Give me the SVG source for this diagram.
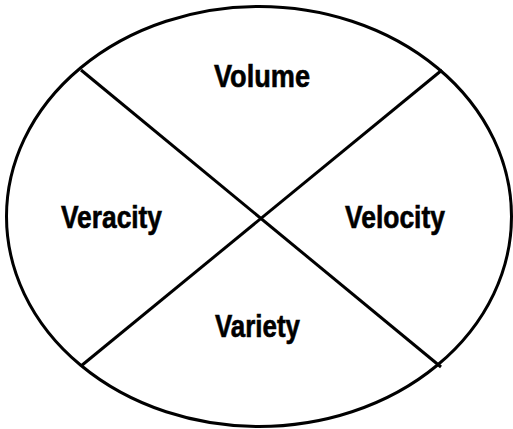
<svg xmlns="http://www.w3.org/2000/svg" width="513" height="429" viewBox="0 0 513 429">
<style>
.shape{fill:none;stroke:#000;stroke-width:3}
.lbl{font-family:"Liberation Sans Narrow","Liberation Sans",Arial,sans-serif;font-weight:bold;font-size:31px;fill:#000;stroke:#000;stroke-width:0.6}
</style>
<rect width="513" height="429" fill="#fff"/>
<g id="outline">
<ellipse class="shape" cx="259" cy="216.5" rx="252.5" ry="210"/>
</g>
<g id="connectors">
<line class="shape" x1="81" y1="70" x2="441" y2="367"/>
<line class="shape" x1="442" y1="70" x2="81" y2="366"/>
</g>
<g id="volume"><text class="lbl" x="214" y="87" textLength="96" lengthAdjust="spacingAndGlyphs">Volume</text></g>
<g id="veracity"><text class="lbl" x="61" y="228" textLength="101" lengthAdjust="spacingAndGlyphs">Veracity</text></g>
<g id="velocity"><text class="lbl" x="345" y="228" textLength="100" lengthAdjust="spacingAndGlyphs">Velocity</text></g>
<g id="variety"><text class="lbl" x="215" y="337" textLength="85" lengthAdjust="spacingAndGlyphs">Variety</text></g>
</svg>
